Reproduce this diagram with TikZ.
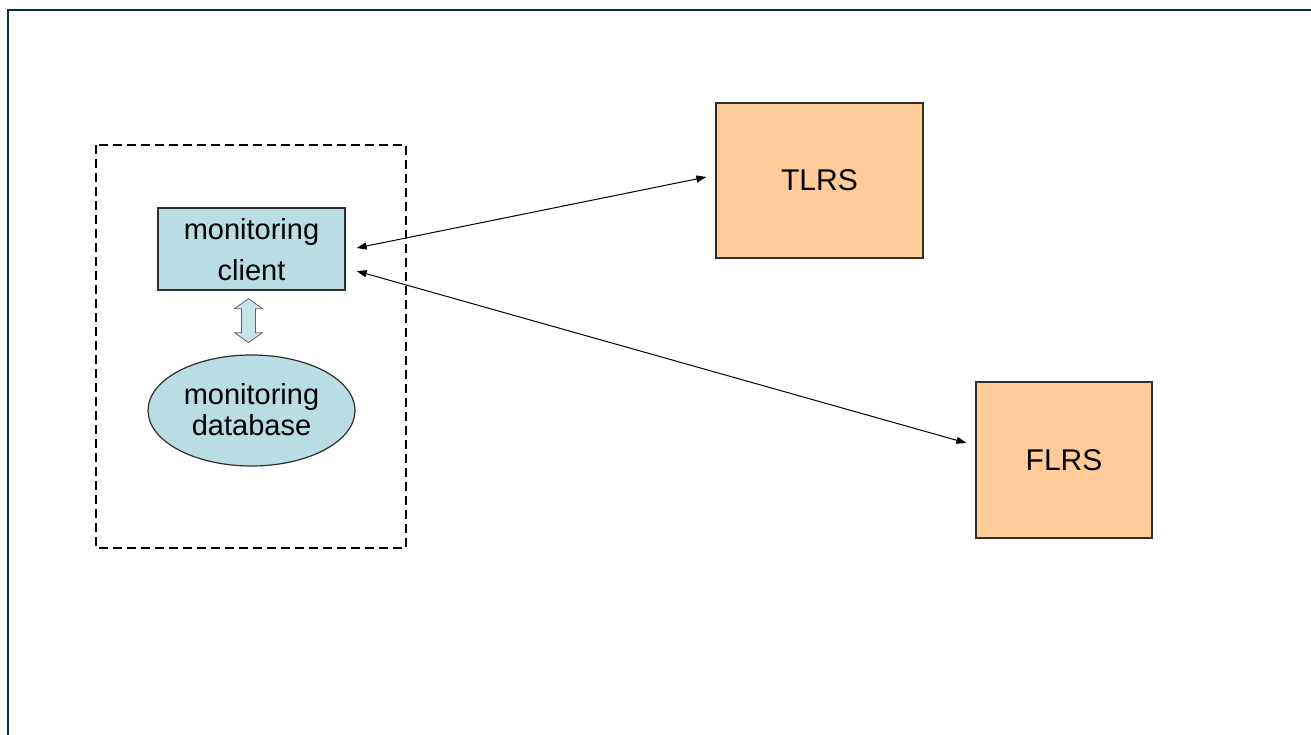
\documentclass[tikz,border=0pt]{standalone}
\usepackage{fontspec}
\setmainfont{Liberation Sans}
\usetikzlibrary{arrows.meta,shapes.geometric,calc}
\definecolor{frameC}{RGB}{0,51,68}
\definecolor{blueF}{RGB}{184,221,227}
\definecolor{peachF}{RGB}{255,204,153}
\definecolor{edgeC}{RGB}{50,45,45}
\tikzset{
  box/.style={draw=edgeC,line width=1.3pt,inner sep=0pt},
  link/.style={black,line width=1pt,{Triangle[length=10pt,width=7pt]}-{Triangle[length=10pt,width=7pt]}},
  lbl/.style={font=\fontsize{29}{41}\selectfont,align=center}
}
\begin{document}
\begin{tikzpicture}[x=1pt,y=-1pt]
\useasboundingbox (0,0) rectangle (1311,735);
% frame
\draw[frameC,line width=2pt] (1311,10) -- (8,10) -- (8,735);
% dashed group
\draw[black,line width=1.3pt,dash pattern=on 9pt off 5pt] (96,145) rectangle (406,548);
% nodes
\node[box,fill=blueF,minimum width=187pt,minimum height=82pt] (client) at (251.5,249) {};
\node[lbl] at (251.5,250) {monitoring\\client};
\node[draw=edgeC,line width=1.2pt,fill=blueF,ellipse,inner sep=0pt,minimum width=207pt,minimum height=111pt] (db) at (251.5,410.5) {};
\node[lbl,font=\fontsize{29}{31}\selectfont] at (251.5,410) {monitoring\\database};
\node[box,fill=peachF,minimum width=207pt,minimum height=155pt,font=\fontsize{30}{33}\selectfont] (tlrs) at (819.5,180.5) {TLRS};
\node[box,fill=peachF,minimum width=176pt,minimum height=156pt,font=\fontsize{30}{33}\selectfont] (flrs) at (1064,460) {FLRS};
% block double arrow between client and db
\draw[gray!80!black,line width=0.8pt,fill=blueF!80!white]
  ($(client.south)+(-3,8)$) -- ++(14,10) -- ++(-7,0) -- ++(0,24) -- ++(7,0)
  -- ++(-14,10) -- ++(-14,-10) -- ++(7,0) -- ++(0,-24) -- ++(-7,0) -- cycle;
% connectors
\draw[link] ([shift={(11,-1)}]client.east) -- ([shift={(-9,-3.5)}]tlrs.west);
\draw[link] ([shift={(11,22)}]client.east) -- ([shift={(-9,-17)}]flrs.west);
\end{tikzpicture}
\end{document}
